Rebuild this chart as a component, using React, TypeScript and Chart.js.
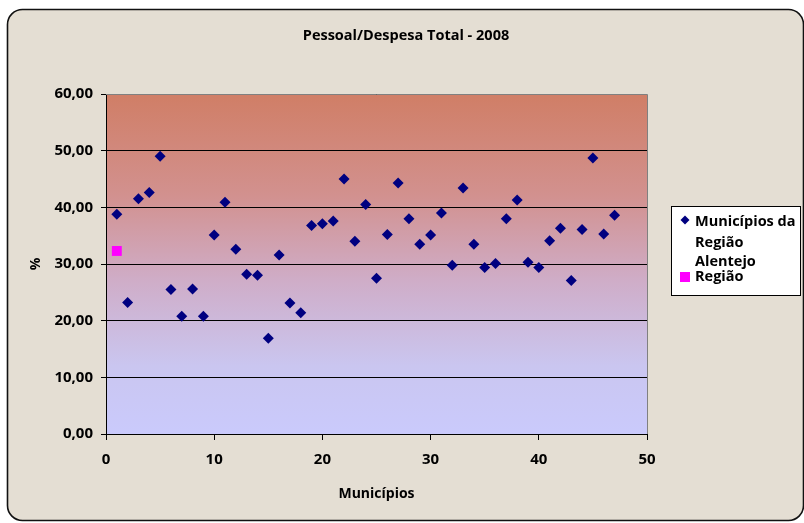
import { useEffect, useRef } from "react";
import { Chart, registerables } from "chart.js";

Chart.register(...registerables);

const chartTitle = "Pessoal/Despesa Total - 2008";
const xAxisTitle = "Municípios";
const yAxisTitle = "%";

const municipiosLabel = "Municípios da Região Alentejo";
const municipiosIndex = [
  1, 2, 3, 4, 5, 6, 7, 8, 9, 10, 11, 12, 13, 14, 15, 16, 17, 18, 19, 20, 21, 22, 23, 24,
  25, 26, 27, 28, 29, 30, 31, 32, 33, 34, 35, 36, 37, 38, 39, 40, 41, 42, 43, 44, 45, 46, 47,
];
const municipiosValues = [
  38.8, 23.2, 41.5, 42.6, 49.0, 25.5, 20.8, 25.6, 20.8, 35.1, 40.9, 32.6, 28.2, 28.0, 16.9,
  31.6, 23.1, 21.4, 36.8, 37.1, 37.6, 45.0, 34.0, 40.5, 27.5, 35.2, 44.3, 38.0, 33.5, 35.1,
  39.0, 29.8, 43.4, 33.5, 29.4, 30.1, 38.0, 41.3, 30.3, 29.4, 34.1, 36.3, 27.1, 36.1, 48.7,
  35.3, 38.6,
];

const regiaoLabel = "Região";
const regiaoIndex = [1];
const regiaoValues = [32.3];

const xMin = 0;
const xMax = 50;
const xStep = 10;
const yMin = 0;
const yMax = 60;
const yStep = 10;

const FONT = "'Open Sans', 'DejaVu Sans', sans-serif";

export default function App() {
  const canvasRef = useRef<HTMLCanvasElement | null>(null);

  useEffect(() => {
    document.body.style.margin = "0";
    const canvas = canvasRef.current;
    if (!canvas) return;

    const decorPlugin = {
      id: "decor",
      beforeDraw(chart: any) {
        const { ctx, chartArea } = chart;
        const W = chart.width;
        const H = chart.height;
        ctx.save();
        ctx.fillStyle = "#ffffff";
        ctx.fillRect(0, 0, W, H);
        const x0 = 7.5, y0 = 9.5, x1 = 803.5, y1 = 520.5, r = 15;
        ctx.beginPath();
        ctx.moveTo(x0 + r, y0);
        ctx.lineTo(x1 - r, y0);
        ctx.arcTo(x1, y0, x1, y0 + r, r);
        ctx.lineTo(x1, y1 - r);
        ctx.arcTo(x1, y1, x1 - r, y1, r);
        ctx.lineTo(x0 + r, y1);
        ctx.arcTo(x0, y1, x0, y1 - r, r);
        ctx.lineTo(x0, y0 + r);
        ctx.arcTo(x0, y0, x0 + r, y0, r);
        ctx.closePath();
        ctx.fillStyle = "#e4ded3";
        ctx.fill();
        ctx.lineWidth = 1.6;
        ctx.strokeStyle = "#111111";
        ctx.stroke();

        const g = ctx.createLinearGradient(0, chartArea.top, 0, chartArea.bottom);
        g.addColorStop(0, "#d07e66");
        g.addColorStop(0.3, "#d2918f");
        g.addColorStop(0.55, "#cfadc8");
        g.addColorStop(0.8, "#cac6f0");
        g.addColorStop(1, "#cacafc");
        ctx.fillStyle = g;
        ctx.fillRect(chartArea.left, chartArea.top, chartArea.right - chartArea.left, chartArea.bottom - chartArea.top);
        ctx.restore();
      },
      beforeDatasetsDraw(chart: any) {
        const { ctx, chartArea } = chart;
        ctx.save();
        ctx.strokeStyle = "#808080";
        ctx.lineWidth = 1;
        ctx.beginPath();
        ctx.moveTo(chartArea.left, chartArea.top + 0.5);
        ctx.lineTo(chartArea.right + 0.5, chartArea.top + 0.5);
        ctx.lineTo(chartArea.right + 0.5, chartArea.bottom);
        ctx.stroke();
        ctx.restore();
      },
      afterDraw(chart: any) {
        const { ctx, chartArea } = chart;
        ctx.save();
        ctx.fillStyle = "#000000";
        ctx.textBaseline = "middle";
        ctx.font = `bold 14.5px ${FONT}`;
        ctx.textAlign = "center";
        ctx.fillText(chartTitle, 406, 36);
        ctx.font = `bold 14px ${FONT}`;
        ctx.fillText(xAxisTitle, (chartArea.left + chartArea.right) / 2, 494);
        ctx.save();
        ctx.translate(36, (chartArea.top + chartArea.bottom) / 2);
        ctx.rotate(-Math.PI / 2);
        ctx.fillText(yAxisTitle, 0, 0);
        ctx.restore();

        // legend
        const bx = 671.5, by = 206.5, bw = 129, bh = 89;
        ctx.fillStyle = "#ffffff";
        ctx.fillRect(bx, by, bw, bh);
        ctx.strokeStyle = "#000000";
        ctx.lineWidth = 1;
        ctx.strokeRect(bx, by, bw, bh);
        ctx.font = `bold 14.5px ${FONT}`;
        ctx.textAlign = "left";
        ctx.textBaseline = "alphabetic";
        const words = municipiosLabel.split(" ");
        const lines: string[] = [];
        let cur = "";
        for (const w of words) {
          const test = cur ? cur + " " + w : w;
          if (ctx.measureText(test).width > 108 && cur) {
            lines.push(cur);
            cur = w;
          } else cur = test;
        }
        if (cur) lines.push(cur);
        const tx = 695;
        const baselines = [226, 247, 266];
        ctx.fillStyle = "#000000";
        lines.forEach((l, i) => ctx.fillText(l, tx, baselines[Math.min(i, baselines.length - 1)] + Math.max(0, i - 2) * 19));
        ctx.fillStyle = "#000080";
        ctx.beginPath();
        ctx.moveTo(685, 215.5);
        ctx.lineTo(689.5, 220);
        ctx.lineTo(685, 224.5);
        ctx.lineTo(680.5, 220);
        ctx.closePath();
        ctx.fill();
        ctx.fillStyle = "#ff00ff";
        ctx.fillRect(680, 272, 10, 10);
        ctx.fillStyle = "#000000";
        ctx.fillText(regiaoLabel, tx, 281);
        ctx.restore();
      },
    };

    const chart = new Chart(canvas, {
      type: "scatter",
      data: {
        datasets: [
          {
            label: municipiosLabel,
            data: municipiosIndex.map((x, i) => ({ x, y: municipiosValues[i] })),
            pointStyle: "rectRot",
            pointRadius: 5.5,
            pointHoverRadius: 5.5,
            backgroundColor: "#000080",
            borderColor: "#000080",
            borderWidth: 0,
          },
          {
            label: regiaoLabel,
            data: regiaoIndex.map((x, i) => ({ x, y: regiaoValues[i] })),
            pointStyle: "rect",
            pointRadius: 7,
            pointHoverRadius: 7,
            backgroundColor: "#ff00ff",
            borderColor: "#ff00ff",
            borderWidth: 0,
          },
        ],
      },
      options: {
        responsive: false,
        animation: false,
        events: [],
        layout: { padding: { left: 0, top: 94, right: 157, bottom: 0 } },
        plugins: {
          legend: { display: false },
          title: { display: false },
          tooltip: { enabled: false },
        },
        scales: {
          x: {
            type: "linear",
            min: xMin,
            max: xMax,
            afterFit: (s: any) => {
              s.height = 89;
            },
            ticks: {
              stepSize: xStep,
              color: "#000000",
              font: { family: FONT, size: 15, weight: "bold" },
              padding: 11,
              maxRotation: 0,
            },
            grid: {
              drawOnChartArea: false,
              drawTicks: true,
              tickLength: 6,
              color: "#000000",
              lineWidth: 1,
            },
            border: { display: true, color: "#000000", width: 1 },
          },
          y: {
            type: "linear",
            min: yMin,
            max: yMax,
            afterFit: (s: any) => {
              s.width = 106;
            },
            ticks: {
              stepSize: yStep,
              color: "#000000",
              font: { family: FONT, size: 15, weight: "bold" },
              padding: 8,
              callback: (v: any) => Number(v).toFixed(2).replace(".", ","),
            },
            grid: {
              drawOnChartArea: true,
              drawTicks: true,
              tickLength: 5,
              color: "#000000",
              lineWidth: 1,
            },
            border: { display: true, color: "#000000", width: 1 },
          },
        },
      },
      plugins: [decorPlugin],
    });

    return () => {
      chart.destroy();
    };
  }, []);

  return (
    <div style={{ position: "absolute", left: 0, top: 0, width: 804, height: 523 }}>
      <canvas ref={canvasRef} width={804} height={523} style={{ display: "block" }} />
    </div>
  );
}
